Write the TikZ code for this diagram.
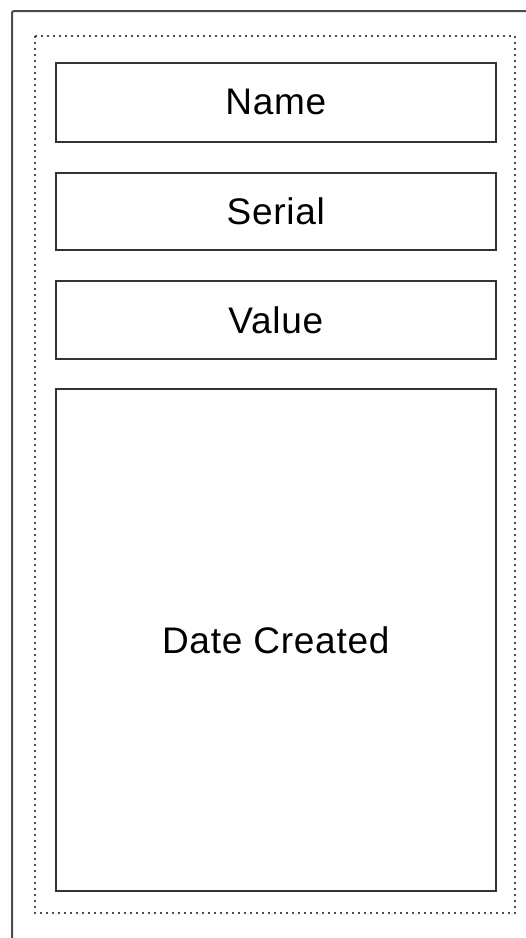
\documentclass[tikz,border=0pt]{standalone}
\usepackage{fontspec}
\setmainfont{Liberation Sans}
\begin{document}
\begin{tikzpicture}[x=1pt,y=-1pt,
  field/.style={draw=black!80,line width=1.6pt},
  label/.style={font=\fontsize{37}{42}\selectfont\addfontfeature{LetterSpace=2},text=black}]
\useasboundingbox (0,0) rectangle (526,938);
\fill[white] (0,0) rectangle (526,938);
\draw[black!70,line width=2pt,rounded corners=2pt] (12,945) -- (12,11) -- (535,11);
\draw[black!70,line width=2pt,dash pattern=on 2pt off 4pt] (35,36) rectangle (515,913);
\node[field,minimum width=440pt,minimum height=79pt,anchor=north west] (name) at (55,62) {};
\node[field,minimum width=440pt,minimum height=77pt,anchor=north west] (serial) at (55,172) {};
\node[field,minimum width=440pt,minimum height=78pt,anchor=north west] (value) at (55,280) {};
\node[field,minimum width=440pt,minimum height=502pt,anchor=north west] (date) at (55,388) {};
\node[label] at (name.center) {Name};
\node[label] at (serial.center) {Serial};
\node[label] at (value.center) {Value};
\node[label] at (date.center) {Date Created};
\end{tikzpicture}
\end{document}
